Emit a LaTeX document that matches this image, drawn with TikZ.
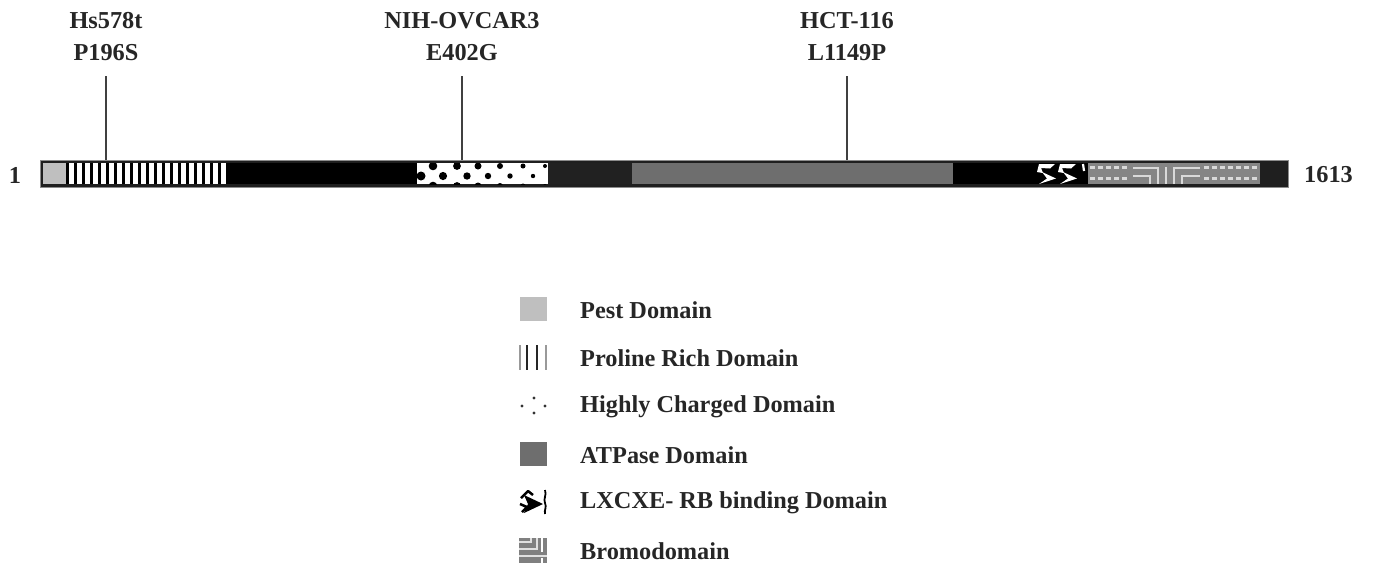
\documentclass[tikz,border=0pt]{standalone}
\usepackage{fontspec}
\setmainfont{Liberation Serif}
\begin{document}
\begin{tikzpicture}[x=1pt,y=-1pt,
  lab/.style={font=\fontsize{24.3}{32}\selectfont\bfseries, text=black!85, inner sep=0pt},
  leg/.style={lab, anchor=west},
  mut/.style={draw=black!75, line width=1.6pt}]
\useasboundingbox (0,0) rectangle (1373,566);
% ---------- protein bar ----------
\fill[black!88] (40,160) rectangle (1288,187);
\draw[black!45, line width=1pt] (40,160) rectangle (1288,187);
% Pest
\fill[black!25] (43,163) rectangle (66,184);
% Proline rich
\fill[white] (66,163) rectangle (228,184);
\foreach \i in {0,...,20} {\fill[black] (66+8*\i,163) rectangle (68.5+8*\i,184);}
% dark stretch
\fill[black] (228,163) rectangle (417,184);
% Highly charged
\fill[white] (417,163) rectangle (548,184);
\begin{scope}
\clip (417,163) rectangle (548,184);
\foreach \x/\r in {433/4.3, 457/3.9, 478/3.5, 500/3, 523/2.5, 545/2} {\fill[black] (\x,166) circle (\r); \fill[black] (\x,186) circle (\r);}
\foreach \x/\r in {421/4.5, 443/4.1, 467/3.7, 488/3.2, 510/2.7, 533/2.2} {\fill[black] (\x,176) circle (\r);}
\end{scope}
% middle dark
\fill[black!87] (548,163) rectangle (632,184);
% ATPase
\fill[black!57] (632,163) rectangle (953,184);
% black
\fill[black] (953,163) rectangle (1035,184);
% LXCXE
\fill[black] (1035,163) rectangle (1088,184);
\foreach \x in {1037,1058} {
  \fill[white] (\x+18,164) -- (\x+2,164) -- (\x,172) -- (\x+6,173) -- (\x+4,168) -- (\x+13,168.5) -- cycle;
  \fill[white] (\x+5,172) -- (\x+19,178.5) -- (\x+2,184) -- (\x+10,178.5) -- cycle;
}
\draw[white, line width=2.2pt] (1083,164) -- (1084,171);
% Bromodomain
\fill[black!48] (1088,163) rectangle (1260,184);
\foreach \x in {1090,1098,...,1126} {\fill[black!15] (\x,166) rectangle (\x+5,169); \fill[black!15] (\x,177) rectangle (\x+5,180);}
\foreach \x in {1204,1212,...,1252} {\fill[black!15] (\x,166) rectangle (\x+5,169); \fill[black!15] (\x,177) rectangle (\x+5,180);}
\draw[black!15, line width=2.5pt] (1133,168) -- (1158,168) -- (1158,184);
\draw[black!15, line width=2.5pt] (1133,176) -- (1150,176) -- (1150,184);
\draw[black!15, line width=2.5pt] (1166,184) -- (1166,167);
\draw[black!15, line width=2.5pt] (1174,184) -- (1174,168) -- (1200,168);
\draw[black!15, line width=2.5pt] (1182,184) -- (1182,176) -- (1200,176);
\fill[black!88] (1260,163) rectangle (1287,184);
% ends
\node[lab] (n1) at (15,175) {1};
\node[lab, anchor=west] (n1613) at (1304,175) {1613};
% ---------- mutations ----------
\node[lab, align=center, anchor=north] (m1) at (106,12) {Hs578t\\P196S};
\node[lab, align=center, anchor=north] (m2) at (462,12) {NIH-OVCAR3\\E402G};
\node[lab, align=center, anchor=north] (m3) at (847,12) {HCT-116\\L1149P};
\coordinate (t1) at (106,76); \coordinate (b1) at (106,160);
\coordinate (t2) at (462,76); \coordinate (b2) at (462,160);
\coordinate (t3) at (847,76); \coordinate (b3) at (847,160);
\draw[mut] (t1) -- (b1);
\draw[mut] (t2) -- (b2);
\draw[mut] (t3) -- (b3);
% ---------- legend ----------
\fill[black!25] (520,297) rectangle (547,321);
\node[leg] (l1) at (580,310) {Pest Domain};
\draw[black!40, line width=1.3pt] (520,345) -- (520,370);
\draw[black!85, line width=2pt] (527,345) -- (527,370);
\draw[black!85, line width=1.8pt] (537,345) -- (537,370);
\draw[black!40, line width=1.3pt] (546,345) -- (546,370);
\node[leg] (l2) at (580,358) {Proline Rich Domain};
\foreach \p in {(534,398),(522,406),(545,406),(534,413)} {\fill[black!80] \p circle (1.6);}
\node[leg] (l3) at (580,407) {Highly Charged Domain};
\fill[black!57] (520,442) rectangle (547,466);
\node[leg] (l4) at (580,455) {ATPase Domain};
\fill[black] (524,495) -- (543,504) -- (524,513) -- (528,504) -- cycle;
\draw[black, line width=2.5pt, line join=round] (521,498) -- (528,491) -- (533,495);
\draw[black, line width=2.5pt, line join=round] (520,504) -- (527,507) -- (522,512);
\draw[black, line width=1.8pt] (545,490) .. controls (547,495) and (543,499) .. (545,503) .. controls (547,507) and (544,510) .. (545,514);
\node[leg] (l5) at (580,503) {LXCXE- RB binding Domain};
\fill[black!50] (519,538) rectangle (547,563);
\draw[black!12, line width=2pt] (519,542) -- (531,542) -- (531,538);
\draw[black!12, line width=2pt] (519,549) -- (537,549) -- (537,538);
\draw[black!12, line width=2pt] (519,556) -- (547,556);
\draw[white, line width=2.5pt] (542,538) -- (542,552);
\draw[white, line width=2.5pt] (542,558) -- (542,563);
\node[leg] (l6) at (580,551) {Bromodomain};
\end{tikzpicture}
\end{document}
